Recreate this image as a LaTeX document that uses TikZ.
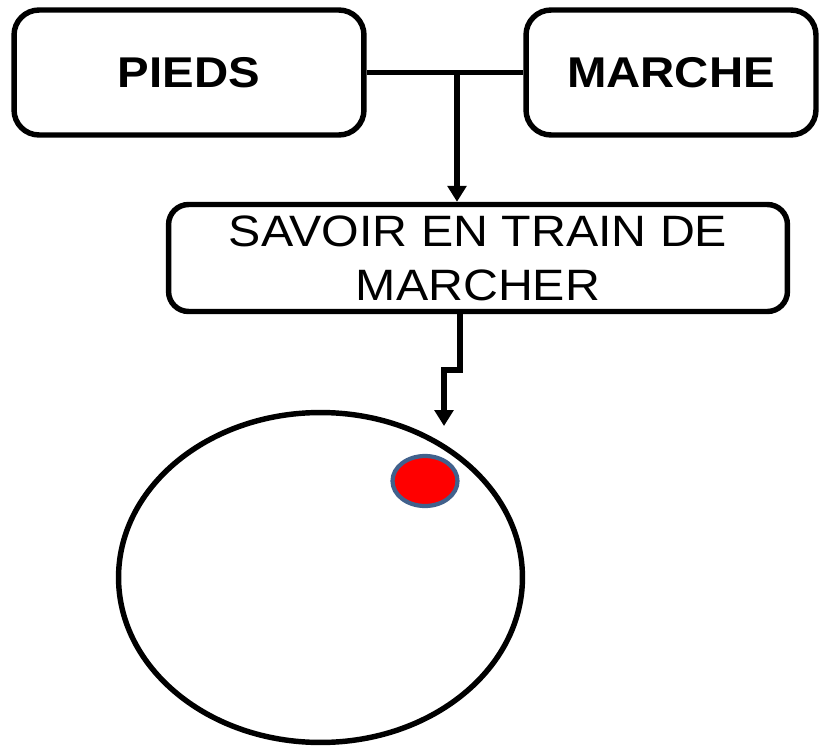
\documentclass[tikz,border=0pt]{standalone}
\usepackage{fontspec}
\setmainfont{Liberation Sans}
\newfontfamily\grasfont{Liberation Sans}[FakeStretch=1.1]
\usetikzlibrary{shapes.geometric,arrows.meta}
\definecolor{bordbleu}{HTML}{41618C}
\tikzset{
	boite/.style={draw,line width=3.1pt,rounded corners=0.5cm,inner sep=0pt},
	titre/.style={font=\grasfont\fontsize{24.5}{29}\selectfont\bfseries},
	fleche/.style={line width=3.1pt,-{Triangle[width=10.5pt,length=9pt]}}
}
\begin{document}
\begin{tikzpicture}[x=0.02cm,y=-0.02cm]
		\useasboundingbox (0,0) rectangle (822,747);
		% les trois boites
		\node[boite,titre,minimum width=7cm,minimum height=2.5cm] (pieds) at (189,72.5) {PIEDS};
		\node[boite,titre,minimum width=5.8cm,minimum height=2.5cm] (marche) at (671,72.5) {MARCHE};
		\node[boite,rounded corners=0.4cm,minimum width=12.38cm,minimum height=2.14cm,align=center,
			font=\grasfont\fontsize{25}{30.6}\selectfont] (savoir) at (478,258) {SAVOIR EN TRAIN DE\\MARCHER};
		% liaisons
		\coordinate (jonction) at (457,72.5);
		\draw[line width=3.1pt] (pieds.east) -- (marche.west);
		\draw[fleche] (jonction) -- (jonction |- savoir.north);
		\coordinate (coude) at (460,370);
		\coordinate (fin) at (444,426);
		\draw[fleche] (coude |- savoir.south) -- (coude) -- (fin |- coude) -- (fin);
		% le cercle et le point
		\node[ellipse,draw,line width=3.1pt,minimum width=8.08cm,minimum height=6.6cm,inner sep=0pt] (cercle) at (320.5,577.5) {};
		\node[ellipse,draw=bordbleu,fill=red,line width=2.4pt,minimum width=1.3cm,minimum height=1cm,inner sep=0pt] (point) at (425,481) {};
\end{tikzpicture}
\end{document}
